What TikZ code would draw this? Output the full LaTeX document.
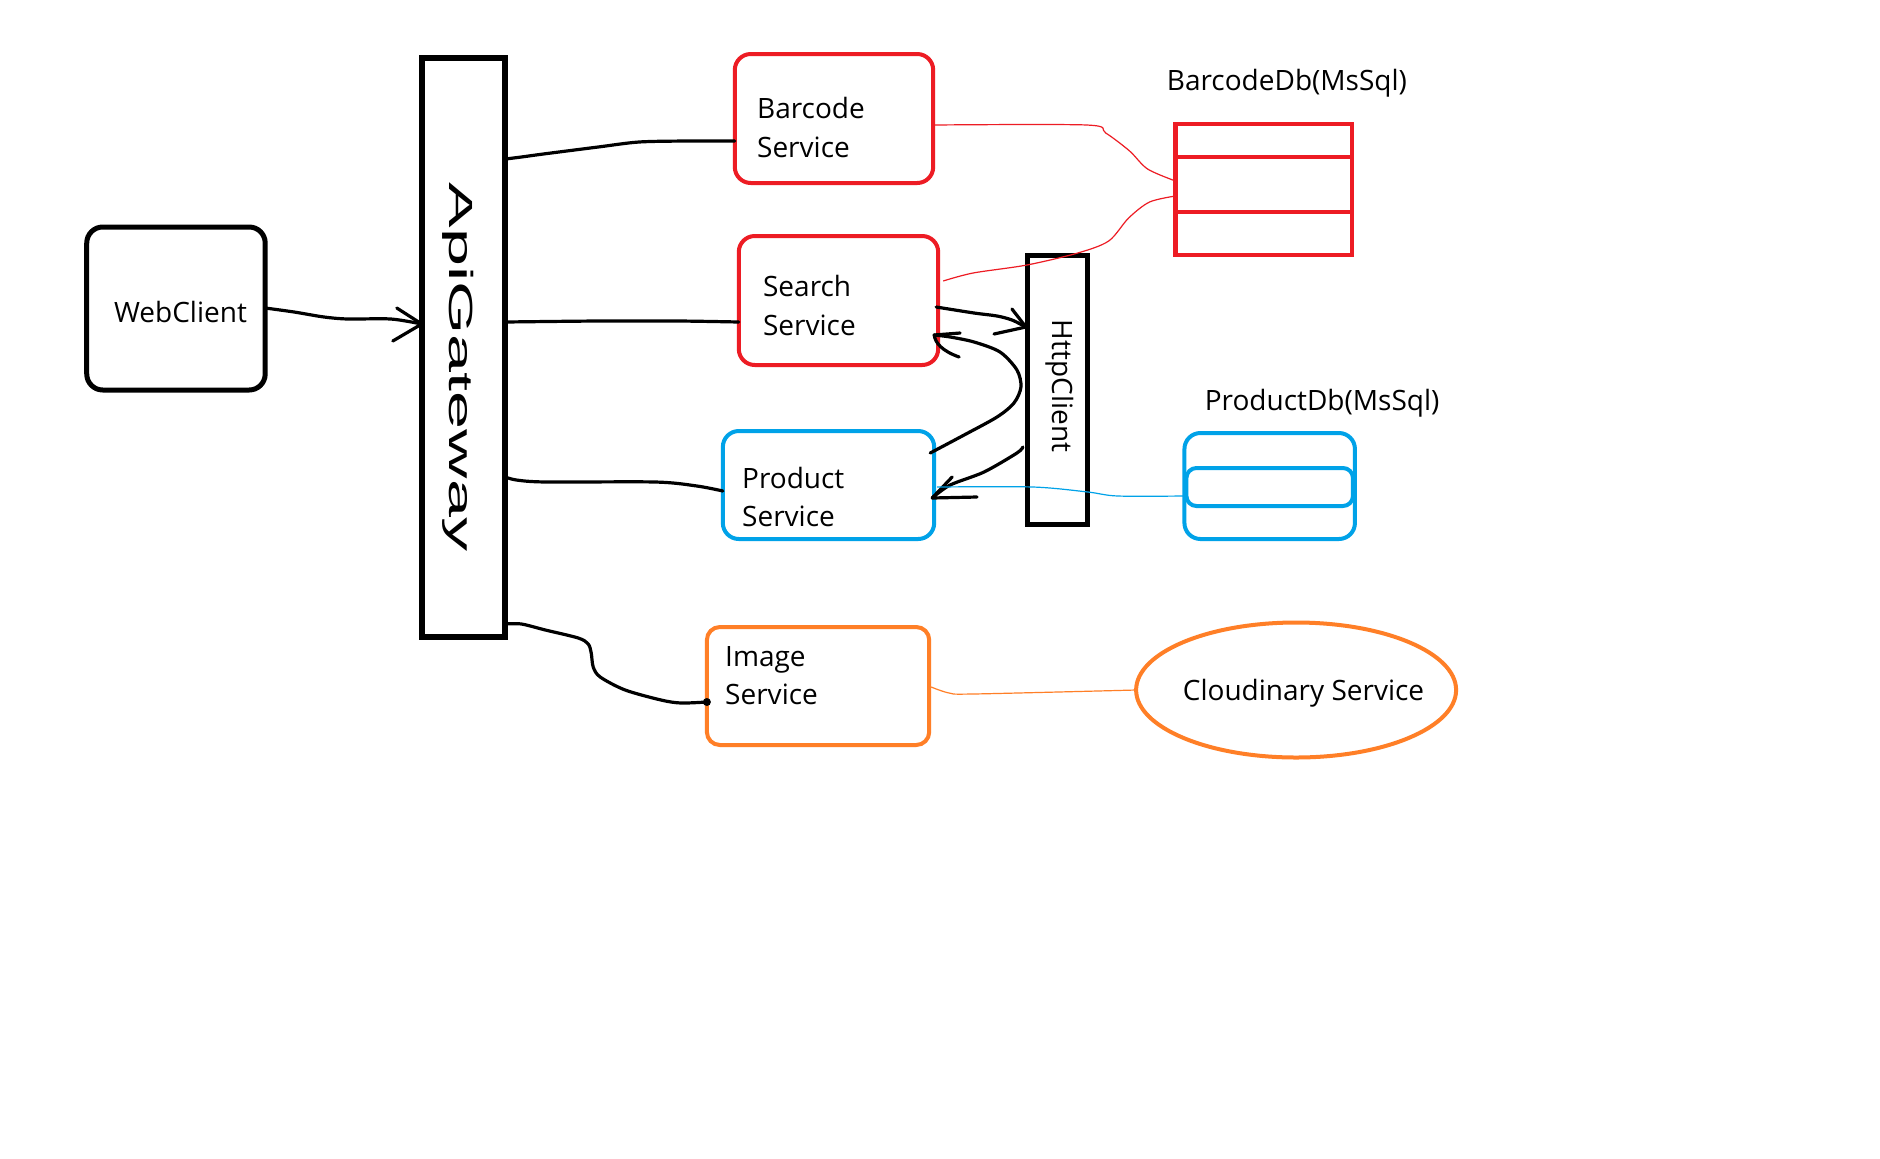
\documentclass[tikz,border=0pt]{standalone}
\usepackage{fontspec}
\usepackage{graphicx}
\setmainfont{Open Sans}
\newfontfamily\arialf{Liberation Sans}
\usetikzlibrary{fit,calc,shapes.geometric}
\definecolor{pred}{HTML}{ED1C24}
\definecolor{pblue}{HTML}{00A2E8}
\definecolor{porange}{HTML}{FF7F27}
\begin{document}
\begin{tikzpicture}[x=0.5pt,y=-0.5pt,
  svc/.style={draw, inner sep=0pt, outer sep=0pt, line width=2pt, rounded corners=8pt},
  blk/.style={draw=black, inner sep=0pt, outer sep=0pt, line width=2.75pt},
  lbl/.style={inner sep=0pt, anchor=base west, font=\fontsize{14}{16}\selectfont},
  conn/.style={line width=1.6pt, line cap=round, line join=round},
  thinline/.style={line width=0.6pt},
  sm/.style={smooth, tension=0.5}]
\fill[white] (0,0) rectangle (1880,1158);
\useasboundingbox (0,0) rectangle (1880,1158);
\begin{scope}[x=0.4985pt]
% boxes
\node[blk, rounded corners=8pt, line width=2.5pt, fit={(87,227) (266,390)}] (web) {};
\node[blk, line width=3pt, fit={(423,58) (507,637)}] (api) {};
\node[svc, pred, fit={(737,54) (936,183)}] (bcs) {};
\node[svc, pred, fit={(741,236) (941,365)}] (scs) {};
\node[svc, pblue, fit={(725,431) (937,539)}] (pds) {};
\node[svc, porange, rounded corners=6.5pt, fit={(709,627) (932,745)}] (ims) {};
\node[blk, line width=2.5pt, fit={(1031,255) (1091,524)}] (http) {};
\node[draw=pred, line width=2.2pt, inner sep=0pt, outer sep=0pt, fit={(1179,124) (1356,255)}] (bdb) {};
\node[svc, pblue, fit={(1188,433) (1359,539)}] (pdb) {};
\node[ellipse, draw=porange, line width=2pt, inner sep=0pt, outer sep=0pt,
      minimum width=160pt, minimum height=67.5pt] (cld) at (1300,690) {};

% details of the databases
\draw[pred, line width=2.2pt] ($(bdb.north west)+(0,33)$) -- ($(bdb.north east)+(0,33)$);
\draw[pred, line width=2.2pt] ($(bdb.north west)+(0,88)$) -- ($(bdb.north east)+(0,88)$);
\draw[pblue, line width=2pt, rounded corners=5pt] ($(pdb.north west)+(2,35)$) rectangle ($(pdb.north east)+(-2,73)$);

% labels
\node[lbl] (tweb) at (114,322) {WebClient};
\node[lbl] (tbc1) at (759,118) {Barcode};
\node[lbl] (tbc2) at (759,157) {Service};
\node[lbl] (tsc1) at (765,296) {Search};
\node[lbl] (tsc2) at (765,335) {Service};
\node[lbl] (tpd1) at (744,488) {Product};
\node[lbl] (tpd2) at (744,526) {Service};
\node[lbl] (tim1) at (727,666) {Image};
\node[lbl] (tim2) at (727,704) {Service};
\node[lbl] (tcl) at (1186,700) {Cloudinary Service};
\node[lbl] (tbdb) at (1170,90) {BarcodeDb(MsSql)};
\node[lbl] (tpdb) at (1208,410) {ProductDb(MsSql)};
\node[rotate=-90, anchor=base, inner sep=0pt, font=\arialf\fontsize{16.75}{18}\selectfont] (tapi) at (451,367) {\scalebox{2.04}[1]{ApiGateway}};
\node[rotate=-90, anchor=base, inner sep=0pt, font=\fontsize{14}{16}\selectfont] (thttp) at (1056,386) {HttpClient};

% end points on the nodes
\coordinate (a0) at ($(api.north east)+(0,101)$);
\coordinate (a1) at ($(bcs.north west)+(0,87)$);
\coordinate (b0) at ($(api.north east)+(0,264)$);
\coordinate (b1) at ($(scs.north west)+(0,86)$);
\coordinate (c0) at ($(api.north east)+(0,419)$);
\coordinate (c1) at ($(pds.north west)+(0,60)$);
\coordinate (d0) at ($(api.south east)+(0,-13)$);
\coordinate (d1) at ($(ims.north west)+(0,75)$);
\coordinate (w0) at ($(web.north east)+(0,81)$);
\coordinate (w1) at ($(api.north west)+(0,266)$);
\coordinate (s0) at ($(scs.north east)+(-2,71)$);
\coordinate (s1) at ($(http.north west)+(-2,72)$);
\coordinate (q0) at ($(pds.north east)+(-4,22)$);
\coordinate (q1) at ($(scs.north east)+(-4,99)$);
\coordinate (r0) at ($(http.north west)+(-5,192)$);
\coordinate (r1) at ($(pds.north east)+(-2,67)$);
\coordinate (e0) at ($(bcs.north east)+(0,71)$);
\coordinate (e1) at ($(bdb.north west)+(0,57)$);
\coordinate (f0) at ($(scs.north east)+(5,45)$);
\coordinate (f1) at ($(bdb.north west)+(0,72)$);
\coordinate (g0) at ($(pds.north east)+(3,56)$);
\coordinate (g1) at ($(pdb.north west)+(0,63)$);
\coordinate (h0) at ($(ims.north east)+(2,60)$);
\coordinate (h1) at (cld.west);

% black connectors
\draw[conn] plot[sm] coordinates {(a0) (523,157) (545,154) (600,147) (641,142) (690,141) (a1)};
\draw[conn] plot[sm] coordinates {(b0) (600,321) (680,321) (b1)};
\draw[conn] plot[sm] coordinates {(c0) (518,480) (548,482) (657,482) (699,486) (c1)};
\draw[conn] plot[sm] coordinates {(d0) (523,624) (547,630) (580,638) (590,644) (593,653) (595,667) (602,677) (627,690) (663,700) (683,703) (d1)};
\fill (d1) circle[radius=2pt];
\draw[conn] plot[sm] coordinates {(w0) (295,312) (325,317) (349,319) (392,319) (w1)};
\draw[conn] (398,308) -- (w1) -- (394,341);
\draw[conn] plot[sm] coordinates {(s0) (977,313) (1000,316) (1015,320) (s1)};
\draw[conn] (1015,309) -- (s1) -- (997,334);
\draw[conn] plot[sm] coordinates {(q0) (967,435) (1000,417) (1017,403) (1024,387) (1020,370) (1003,352) (977,342) (953,337) (q1)};
\draw[conn] (963,333) -- (q1) .. controls (938,343) and (945,351) .. (962,357);
\draw[conn] plot[sm] coordinates {(r0) (1020,453) (987,472) (953,485) (r1)};
\draw[conn] (955,477) -- (r1) -- (980,497);

% thin coloured connectors
\draw[thinline, pred] plot[sm] coordinates {(e0) (1090,125) (1109,133) (1133,151) (1151,169) (e1)};
\draw[thinline, pred] plot[sm] coordinates {(f0) (976,273) (1030,265) (1081,253) (1112,241) (1132,218) (1153,202) (f1)};
\draw[thinline, pblue] plot[sm] coordinates {(g0) (1036,487) (1091,492) (1121,496) (g1)};
\draw[thinline, porange] plot[sm] coordinates {(h0) (952,693) (976,694) (h1)};
\end{scope}
\end{tikzpicture}
\end{document}
